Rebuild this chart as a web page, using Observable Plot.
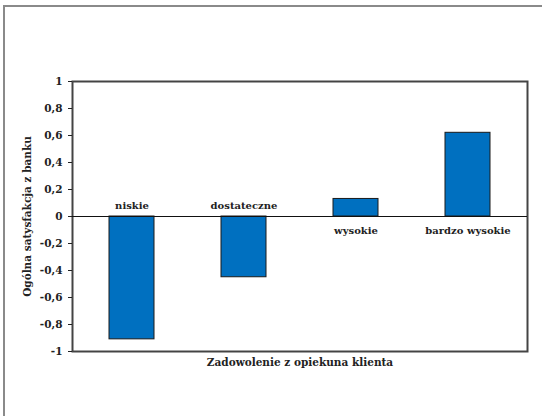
<!DOCTYPE html>
<html>
<head>
<meta charset="utf-8">
<script src="https://cdn.jsdelivr.net/npm/d3@7"></script>
<script src="https://cdn.jsdelivr.net/npm/@observablehq/plot@0.6"></script>
<style>
  html, body { margin: 0; padding: 0; background: #fff; }
  #wrap { position: relative; width: 542px; height: 416px; overflow: hidden; }
  #outer { position: absolute; left: 3px; top: 5px; width: 600px; height: 500px; border-left: 2px solid #8a8a8a; border-top: 2px solid #8a8a8a; box-sizing: border-box; }
  #chart { position: absolute; left: 0; top: 0; }
</style>
</head>
<body>
<div id="wrap"><div id="outer"></div><div id="chart"></div></div>
<script>
const categories = ["niskie", "dostateczne", "wysokie", "bardzo wysokie"];
const values = [-0.91, -0.45, 0.13, 0.62];
const yTicks = [-1, -0.8, -0.6, -0.4, -0.2, 0, 0.2, 0.4, 0.6, 0.8, 1];
const yTitle = "Ogólna satysfakcja z banku";
const xTitle = "Zadowolenie z opiekuna klienta";

const data = categories.map((c, i) => ({category: c, value: values[i]}));
const neg = data.filter(d => d.value < 0);
const pos = data.filter(d => d.value >= 0);
const fmt = d => String(d).replace(".", ",");

const chart = Plot.plot({
  width: 542,
  height: 416,
  marginLeft: 72,
  marginTop: 81,
  marginRight: 15,
  marginBottom: 65,
  style: {fontFamily: "'DejaVu Serif', serif", fontWeight: "bold", fontSize: "10px", color: "#222", background: "transparent"},
  x: {domain: categories, paddingInner: 0.6, paddingOuter: 0.32, axis: null},
  y: {domain: [-1, 1], axis: null},
  marks: [
    Plot.frame({stroke: "#444", strokeWidth: 2}),
    Plot.barY(data, {x: "category", y: "value", fill: "#0070C0", stroke: "#1a1a1a", strokeWidth: 1}),
    Plot.ruleY([0], {stroke: "#111", strokeWidth: 1.2}),
    Plot.ruleX([0], {frameAnchor: "left", stroke: "#111", strokeWidth: 1.5}),
    Plot.axisY({ticks: yTicks, tickFormat: fmt, tickSize: 4, tickPadding: 6, fontSize: 10.5, fontWeight: "bold",
      label: yTitle, labelAnchor: "center", labelArrow: "none", labelOffset: 49}),
    Plot.text(neg, {x: "category", y: 0, text: "category", dy: -11, fill: "#222", fontSize: 10, fontWeight: "bold"}),
    Plot.text(pos, {x: "category", y: 0, text: "category", dy: 14, fill: "#222", fontSize: 10, fontWeight: "bold"}),
    Plot.text([xTitle], {frameAnchor: "bottom", dy: 14, fill: "#222", fontSize: 10.5, fontWeight: "bold"})
  ]
});
document.getElementById("chart").appendChild(chart);
</script>
</body>
</html>
